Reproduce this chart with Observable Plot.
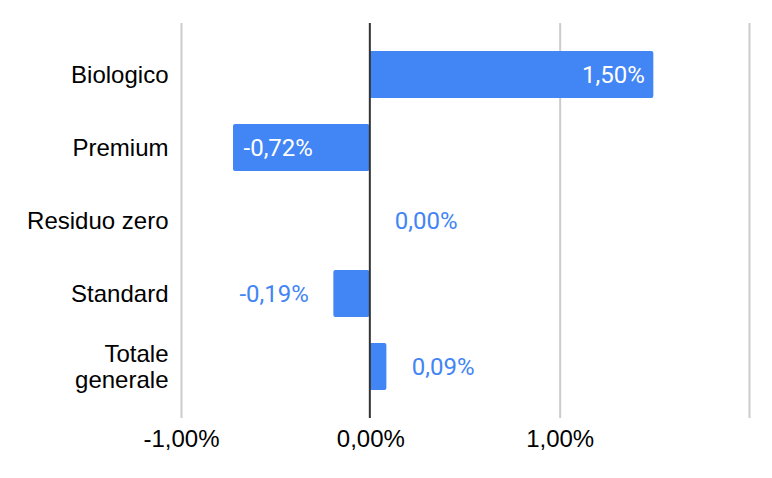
<!DOCTYPE html>
<html>
<head>
<meta charset="utf-8">
<script src="https://cdn.jsdelivr.net/npm/d3@7"></script>
<script src="https://cdn.jsdelivr.net/npm/@observablehq/plot@0.6"></script>
<style>
  html, body { margin: 0; padding: 0; background: #fff; }
  #chart { width: 772px; height: 478px; }
</style>
</head>
<body>
<div id="chart"></div>
<script>
const categories = ["Biologico", "Premium", "Residuo zero", "Standard", "Totale\ngenerale"];
const values = [0.0150, -0.0072, 0.0000, -0.0019, 0.0009];
const xTicks = [-0.01, 0, 0.01, 0.02];
const xTickLabels = ["-1,00%", "0,00%", "1,00%", ""];

const data = categories.map((c, i) => ({cat: c, value: values[i]}));
const it = d3.formatLocale({decimal: ",", thousands: ".", grouping: [3], currency: ["€", ""], minus: "-"});
const fmt = it.format(".2%");
const inside = d => Math.abs(d.value) > 0.004;

const BLUE = "#4285F4";
const axisFont = "Arial, 'Liberation Sans', sans-serif";
const labelFont = "Roboto, sans-serif";
const FS = 24;

const chart = Plot.plot({
  width: 772,
  height: 478,
  marginLeft: 181,
  marginRight: 23,
  marginTop: 23,
  marginBottom: 60,
  style: {fontFamily: axisFont, background: "#fff"},
  x: {domain: [-0.01, 0.02], ticks: xTicks, axis: null, label: null},
  y: {domain: categories, padding: 0.36, axis: null, label: null},
  marks: [
    Plot.ruleX(xTicks.filter(t => t !== 0), {stroke: "#cccccc", strokeWidth: 2, strokeOpacity: 1}),
    Plot.barX(data, {x1: 0, x2: "value", y: "cat", fill: BLUE, rx: 2, dx: -1}),
    Plot.ruleX([0], {stroke: "#333333", strokeWidth: 2, dx: -1}),
    Plot.axisY({
      label: null, tickSize: 0, tickPadding: 13, fontSize: FS, fill: "#000", lineHeight: 1.05,
      fontFamily: axisFont
    }),
    Plot.axisX({
      label: null, ticks: xTicks, tickSize: 0, tickPadding: 11, fontSize: FS, fill: "#000",
      tickFormat: (d) => xTickLabels[xTicks.indexOf(d)], fontFamily: axisFont
    }),
    Plot.text(data, {
      filter: d => inside(d) && d.value > 0, x: "value", y: "cat", text: d => fmt(d.value),
      textAnchor: "end", dx: -10, fill: "#fff", fontSize: FS, fontFamily: labelFont
    }),
    Plot.text(data, {
      filter: d => inside(d) && d.value < 0, x: "value", y: "cat", text: d => fmt(d.value),
      textAnchor: "start", dx: 9, fill: "#fff", fontSize: FS, fontFamily: labelFont
    }),
    Plot.text(data, {
      filter: d => !inside(d) && d.value >= 0, x: "value", y: "cat", text: d => fmt(d.value),
      textAnchor: "start", dx: 24, fill: BLUE, fontSize: FS, fontFamily: labelFont
    }),
    Plot.text(data, {
      filter: d => !inside(d) && d.value < 0, x: "value", y: "cat", text: d => fmt(d.value),
      textAnchor: "end", dx: -26, fill: BLUE, fontSize: FS, fontFamily: labelFont
    })
  ]
});
document.getElementById("chart").appendChild(chart);
</script>
</body>
</html>
